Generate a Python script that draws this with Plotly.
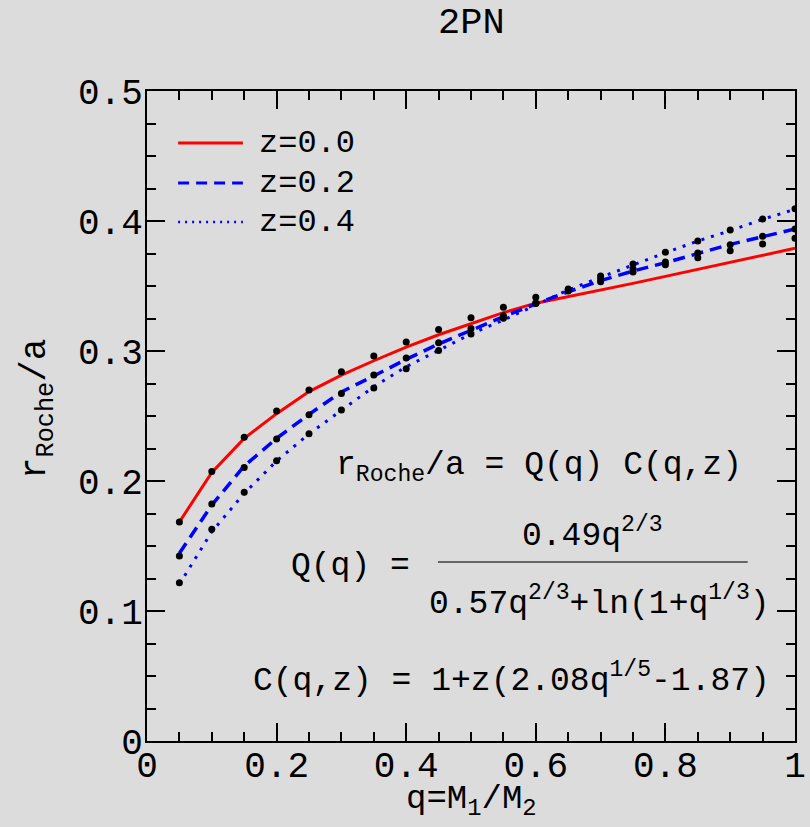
import plotly.graph_objects as go

# ---- data ----
q = [0.05, 0.10, 0.15, 0.20, 0.25, 0.30, 0.35, 0.40, 0.45, 0.50,
     0.55, 0.60, 0.65, 0.70, 0.75, 0.80, 0.85, 0.90, 0.95, 1.00]

# fitted curves
line_z00 = [0.1685, 0.2065, 0.2328, 0.2518, 0.2688, 0.2815, 0.2925, 0.3030, 0.3125, 0.3213,
            0.3295, 0.3368, 0.3418, 0.3467, 0.3520, 0.3574, 0.3628, 0.3682, 0.3736, 0.3790]
line_z02 = [0.1444, 0.1815, 0.2115, 0.2328, 0.2513, 0.2685, 0.2808, 0.2936, 0.3054, 0.3162,
            0.3264, 0.3362, 0.3456, 0.3541, 0.3615, 0.3679, 0.3751, 0.3820, 0.3879, 0.3938]
line_z04 = [0.1205, 0.1610, 0.1905, 0.2154, 0.2362, 0.2545, 0.2725, 0.2879, 0.3008, 0.3131,
            0.3238, 0.3354, 0.3469, 0.3567, 0.3664, 0.3756, 0.3846, 0.3926, 0.4013, 0.4090]

# numerical points (black dots)
pts_z00 = [0.1685, 0.2074, 0.2336, 0.2538, 0.2700, 0.2840, 0.2962, 0.3069, 0.3166, 0.3256,
           0.3336, 0.3413, 0.3462, 0.3533, 0.3608, 0.3664, 0.3718, 0.3772, 0.3823, 0.3867]
pts_z02 = [0.1423, 0.1823, 0.2103, 0.2323, 0.2510, 0.2674, 0.2815, 0.2946, 0.3064, 0.3174,
           0.3272, 0.3365, 0.3470, 0.3554, 0.3630, 0.3685, 0.3754, 0.3818, 0.3882, 0.3938]
pts_z04 = [0.1218, 0.1628, 0.1913, 0.2156, 0.2364, 0.2546, 0.2715, 0.2864, 0.3003, 0.3131,
           0.3251, 0.3370, 0.3477, 0.3577, 0.3669, 0.3759, 0.3846, 0.3931, 0.4015, 0.4095]

series_names = ["z=0.0", "z=0.2", "z=0.4"]
x_ticks = [0, 0.2, 0.4, 0.6, 0.8, 1]
y_ticks = [0, 0.1, 0.2, 0.3, 0.4, 0.5]

FONT = "Liberation Mono"
BG = "#dcdcdc"

styles = [
    dict(color="#ff0000", width=3, dash="solid"),
    dict(color="#0000ff", width=3.5, dash="12px,7px"),
    dict(color="#0000ff", width=3, dash="3px,7px"),
]
legend_styles = [
    dict(color="#ff0000", width=3, dash="solid"),
    dict(color="#0000ff", width=3, dash="11px,7px"),
    dict(color="#0000ff", width=2.5, dash="2px,5px"),
]

fig = go.Figure()
for ys, st, nm in zip([line_z00, line_z02, line_z04], styles, series_names):
    fig.add_trace(go.Scatter(x=q, y=ys, mode="lines", line=st, name=nm, showlegend=False))
for ys in [pts_z00, pts_z02, pts_z04]:
    fig.add_trace(go.Scatter(x=q, y=ys, mode="markers",
                             marker=dict(color="black", size=7), showlegend=False))

# custom legend (longer line samples than plotly's built-in legend)
leg_y = [0.46, 0.4292, 0.3992]
for yy, st, nm in zip(leg_y, legend_styles, series_names):
    fig.add_shape(type="line", xref="x", yref="y", x0=0.048, x1=0.148, y0=yy, y1=yy, line=st)
    fig.add_annotation(xref="x", yref="y", x=0.169, y=yy, text=nm, showarrow=False,
                       xanchor="left", yanchor="middle", font=dict(family=FONT, size=32, color="black"))

# formulas
afont = dict(family=FONT, size=33, color="black")
fig.add_annotation(xref="x", yref="y", x=0.2890, y=0.2103, xanchor="left", yanchor="middle",
                   text="r<sub>Roche</sub>/a = Q(q) C(q,z)", showarrow=False, font=afont)
fig.add_annotation(xref="x", yref="y", x=0.687, y=0.160, xanchor="center", yanchor="middle",
                   text="0.49q<sup>2/3</sup>", showarrow=False, font=afont)
fig.add_annotation(xref="x", yref="y", x=0.698, y=0.107, xanchor="center", yanchor="middle",
                   text="0.57q<sup>2/3</sup>+ln(1+q<sup>1/3</sup>)", showarrow=False, font=afont)
fig.add_annotation(xref="x", yref="y", x=0.219, y=0.1346, xanchor="left", yanchor="middle",
                   text="Q(q) =", showarrow=False, font=afont)
fig.add_annotation(xref="x", yref="y", x=0.1610, y=0.0477, xanchor="left", yanchor="middle",
                   text="C(q,z) = 1+z(2.08q<sup>1/5</sup>-1.87)", showarrow=False, font=afont)
fig.add_shape(type="line", xref="x", yref="y", x0=0.449, x1=0.927, y0=0.1377, y1=0.1377,
              line=dict(color="#666666", width=2))

# axis titles and plot title as positioned text
fig.add_annotation(xref="paper", yref="paper", x=0.5, y=-0.093, xanchor="center", yanchor="middle",
                   text="q=M<sub>1</sub>/M<sub>2</sub>", showarrow=False,
                   font=dict(family=FONT, size=34, color="black"))
fig.add_annotation(xref="paper", yref="paper", x=-0.168, y=0.511, xanchor="center", yanchor="middle",
                   text="r<sub>Roche</sub>/a", showarrow=False, textangle=-90,
                   font=dict(family=FONT, size=36, color="black"))
fig.add_annotation(xref="paper", yref="paper", x=0.5, y=1.104, xanchor="center", yanchor="middle",
                   text="2PN", showarrow=False,
                   font=dict(family=FONT, size=37, color="black"))

axis_common = dict(
    showgrid=False, zeroline=False, showline=True, linecolor="black", linewidth=2,
    mirror="ticks", ticks="inside", ticklen=18, tickwidth=1.5, tickcolor="black",
    tickfont=dict(family=FONT, size=36, color="black"), automargin=False,
)
fig.update_xaxes(range=[0, 1], tickvals=x_ticks, ticktext=[f"{v:g}" for v in x_ticks],
                 minor=dict(dtick=0.05, ticks="inside", ticklen=9, tickwidth=1.5, tickcolor="black"),
                 ticklabelstandoff=-9, **axis_common)
fig.update_yaxes(range=[0, 0.5], tickvals=y_ticks, ticktext=[f"{v:g}" for v in y_ticks],
                 minor=dict(dtick=0.025, ticks="inside", ticklen=9, tickwidth=1.5, tickcolor="black"),
                 ticklabelstandoff=-5, **axis_common)

fig.update_layout(
    width=810, height=827,
    margin=dict(l=147, r=15, t=91, b=86, autoexpand=False),
    paper_bgcolor=BG, plot_bgcolor=BG,
    showlegend=False,
)

post = ("document.body.style.margin='0';document.body.style.padding='0';"
        "document.body.style.overflow='hidden';"
        "document.body.style.background='%s';"
        "document.documentElement.style.background='%s';" % (BG, BG))
fig.write_html("out.html", post_script=post, config={"displayModeBar": False})
